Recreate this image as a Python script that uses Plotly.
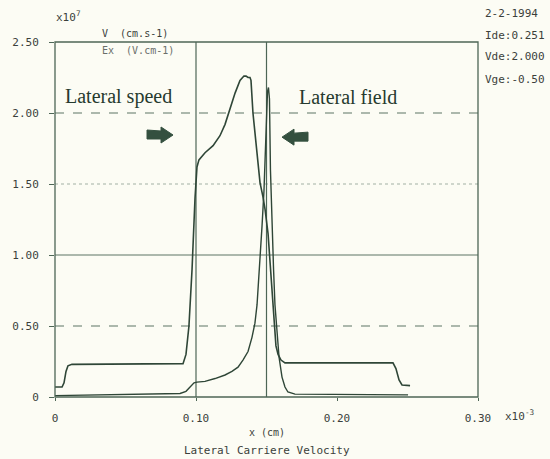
import plotly.graph_objects as go

# ---- data (x in units of 1e-3 cm, y in units of 1e7) ----
vel_x = [0.0, 0.005, 0.0064, 0.0078, 0.0092, 0.012, 0.0908, 0.0929, 0.095, 0.0972,
         0.0993, 0.1007, 0.1021, 0.1064, 0.1121, 0.117, 0.1206, 0.1241, 0.1277, 0.1312,
         0.134, 0.1355, 0.1369, 0.1383, 0.139, 0.1404, 0.1418, 0.1433, 0.1454, 0.1475,
         0.149, 0.1511, 0.1525, 0.1539, 0.1553, 0.1567, 0.1582, 0.1603, 0.1631, 0.2397,
         0.2418, 0.244, 0.2461, 0.2518]
vel_y = [0.07, 0.07, 0.10, 0.18, 0.22, 0.23, 0.235, 0.30, 0.50, 0.90,
         1.40, 1.62, 1.67, 1.72, 1.77, 1.84, 1.92, 2.03, 2.14, 2.23,
         2.26, 2.26, 2.25, 2.25, 2.23, 2.00, 1.85, 1.69, 1.51, 1.41,
         1.32, 1.15, 0.95, 0.72, 0.50, 0.36, 0.30, 0.26, 0.24, 0.24,
         0.20, 0.12, 0.085, 0.08]

field_x = [0.0, 0.0319, 0.0887, 0.0929, 0.0957, 0.0986, 0.1007, 0.1064, 0.1135, 0.1206,
           0.1255, 0.1298, 0.1333, 0.1369, 0.1397, 0.1418, 0.1433, 0.1447, 0.1454, 0.1468,
           0.1482, 0.1496, 0.1507, 0.1514, 0.1521, 0.1528, 0.1539, 0.155, 0.156, 0.1574,
           0.1589, 0.161, 0.1631, 0.1652, 0.1702, 0.2504]
field_y = [0.01, 0.015, 0.025, 0.04, 0.07, 0.10, 0.105, 0.11, 0.13, 0.155,
           0.18, 0.21, 0.26, 0.32, 0.42, 0.52, 0.65, 0.85, 1.00, 1.20,
           1.45, 1.80, 2.15, 2.18, 2.10, 1.60, 1.20, 0.90, 0.65, 0.45,
           0.28, 0.14, 0.07, 0.035, 0.02, 0.015]

x_ticks = [0, 0.10, 0.20, 0.30]
x_tick_labels = ["0", "0.10", "0.20", "0.30"]
y_ticks = [0, 0.5, 1.0, 1.5, 2.0, 2.5]
y_tick_labels = ["0", "0.50", "1.00", "1.50", "2.00", "2.50"]
marker_x = [0.10, 0.15]
grid_y = [2.0, 1.5, 1.0, 0.5]
grid_dash = ["dash", "dot", "solid", "dash"]

info_lines = ["2-2-1994", "Ide:0.251", "Vde:2.000", "Vge:-0.50"]

LINE = "#2f4637"
GRID = "#4d6656"
TXT = "#3b3f3b"
BG = "#fcfcf4"
MONO = "DejaVu Sans Mono"
ARROW = "#34503f"

fig = go.Figure()
fig.add_trace(go.Scatter(x=vel_x, y=vel_y, mode="lines",
                         line=dict(color=LINE, width=1.6), name="V"))
fig.add_trace(go.Scatter(x=field_x, y=field_y, mode="lines",
                         line=dict(color=LINE, width=1.4), name="Ex"))

shapes = []
for gy, gd in zip(grid_y, grid_dash):
    shapes.append(dict(type="line", xref="paper", yref="y", x0=0, x1=1, y0=gy, y1=gy,
                       line=dict(color=GRID, width=1.2 if gd != "dot" else 1, dash=gd),
                       layer="below", opacity=0.9 if gd != "dot" else 0.5))
for mx in marker_x:
    shapes.append(dict(type="line", xref="x", yref="paper", x0=mx, x1=mx, y0=0, y1=1,
                       line=dict(color=GRID, width=1.2), layer="below"))
# frame
shapes.append(dict(type="rect", xref="paper", yref="paper", x0=0, x1=1, y0=0, y1=1,
                   line=dict(color=GRID, width=1.3)))

# block arrows (pixel-sized glyphs anchored at their tips)
right_arrow = "M -26,-4 L -12,-4 L -12,-8 L 0,0 L -12,8 L -12,4 L -26,5 Z"
left_arrow = "M 26,-4 L 12,-4 L 12,-8 L 0,0 L 12,8 L 12,4 L 26,5 Z"
for px_path, ax_, ay_ in [(right_arrow, 0.0837, 1.845), (left_arrow, 0.161, 1.83)]:
    shapes.append(dict(type="path", xref="x", yref="y", xsizemode="pixel", ysizemode="pixel",
                       xanchor=ax_, yanchor=ay_, path=px_path,
                       fillcolor=ARROW, line=dict(color=ARROW, width=1)))

annotations = []
annotations.append(dict(text="x10<sup>7</sup>", xref="paper", yref="paper", x=-0.003, y=1.045,
                        xanchor="left", yanchor="bottom", showarrow=False,
                        font=dict(family=MONO, size=11, color=TXT)))
annotations.append(dict(text="x10<sup>-3</sup>", xref="paper", yref="paper", x=1.06, y=-0.025,
                        xanchor="left", yanchor="top", showarrow=False,
                        font=dict(family=MONO, size=11, color=TXT)))
annotations.append(dict(text="V  (cm.s-1)", xref="paper", yref="paper", x=0.107, y=1.004,
                        xanchor="left", yanchor="bottom", showarrow=False,
                        font=dict(family=MONO, size=10, color=TXT)))
annotations.append(dict(text="Ex  (V.cm-1)", xref="paper", yref="paper", x=0.107, y=0.996,
                        xanchor="left", yanchor="top", showarrow=False,
                        font=dict(family=MONO, size=10, color="#6a6e6a")))
for i, t in enumerate(info_lines):
    annotations.append(dict(text=t, xref="paper", yref="paper", x=1.0 + 5 / 423,
                            y=1.0 + (42 - 13 - 22 * i) / 355,
                            xanchor="left", yanchor="middle", showarrow=False,
                            font=dict(family=MONO, size=11, color=TXT)))
annotations.append(dict(text="x (cm)", xref="paper", yref="paper", x=0.5, y=-(432 - 397) / 355,
                        xanchor="center", yanchor="middle", showarrow=False,
                        font=dict(family=MONO, size=10, color=TXT)))
annotations.append(dict(text="Lateral Carriere Velocity", xref="paper", yref="paper", x=0.5,
                        y=-(450 - 397) / 355, xanchor="center", yanchor="middle", showarrow=False,
                        font=dict(family=MONO, size=11, color=TXT)))
annotations.append(dict(text="Lateral speed", xref="paper", yref="paper", x=(63 - 55) / 423,
                        y=(397 - 96) / 355, xanchor="left", yanchor="middle", showarrow=False,
                        font=dict(family="Liberation Serif", size=20, color="#263a2e")))
annotations.append(dict(text="Lateral field", xref="paper", yref="paper", x=(297 - 55) / 423,
                        y=(397 - 97) / 355, xanchor="left", yanchor="middle", showarrow=False,
                        font=dict(family="Liberation Serif", size=20, color="#263a2e")))

fig.update_layout(
    width=550, height=459,
    margin=dict(l=55, r=72, t=42, b=62),
    paper_bgcolor=BG, plot_bgcolor=BG,
    showlegend=False,
    shapes=shapes,
    annotations=annotations,
    xaxis=dict(range=[0, 0.30], tickvals=x_ticks, ticktext=x_tick_labels,
               showgrid=False, zeroline=False, ticks="outside", ticklen=3,
               tickcolor=GRID, ticklabelstandoff=8,
               tickfont=dict(family=MONO, size=11, color=TXT)),
    yaxis=dict(range=[0, 2.5], tickvals=y_ticks, ticktext=y_tick_labels,
               showgrid=False, zeroline=False, ticks="outside", ticklen=5,
               tickcolor=GRID, ticklabelstandoff=8,
               tickfont=dict(family=MONO, size=11, color=TXT)),
)

fig.write_html("out.html", config={"displayModeBar": False},
               post_script="document.body.style.margin='0';document.body.style.background='" + BG + "';")
